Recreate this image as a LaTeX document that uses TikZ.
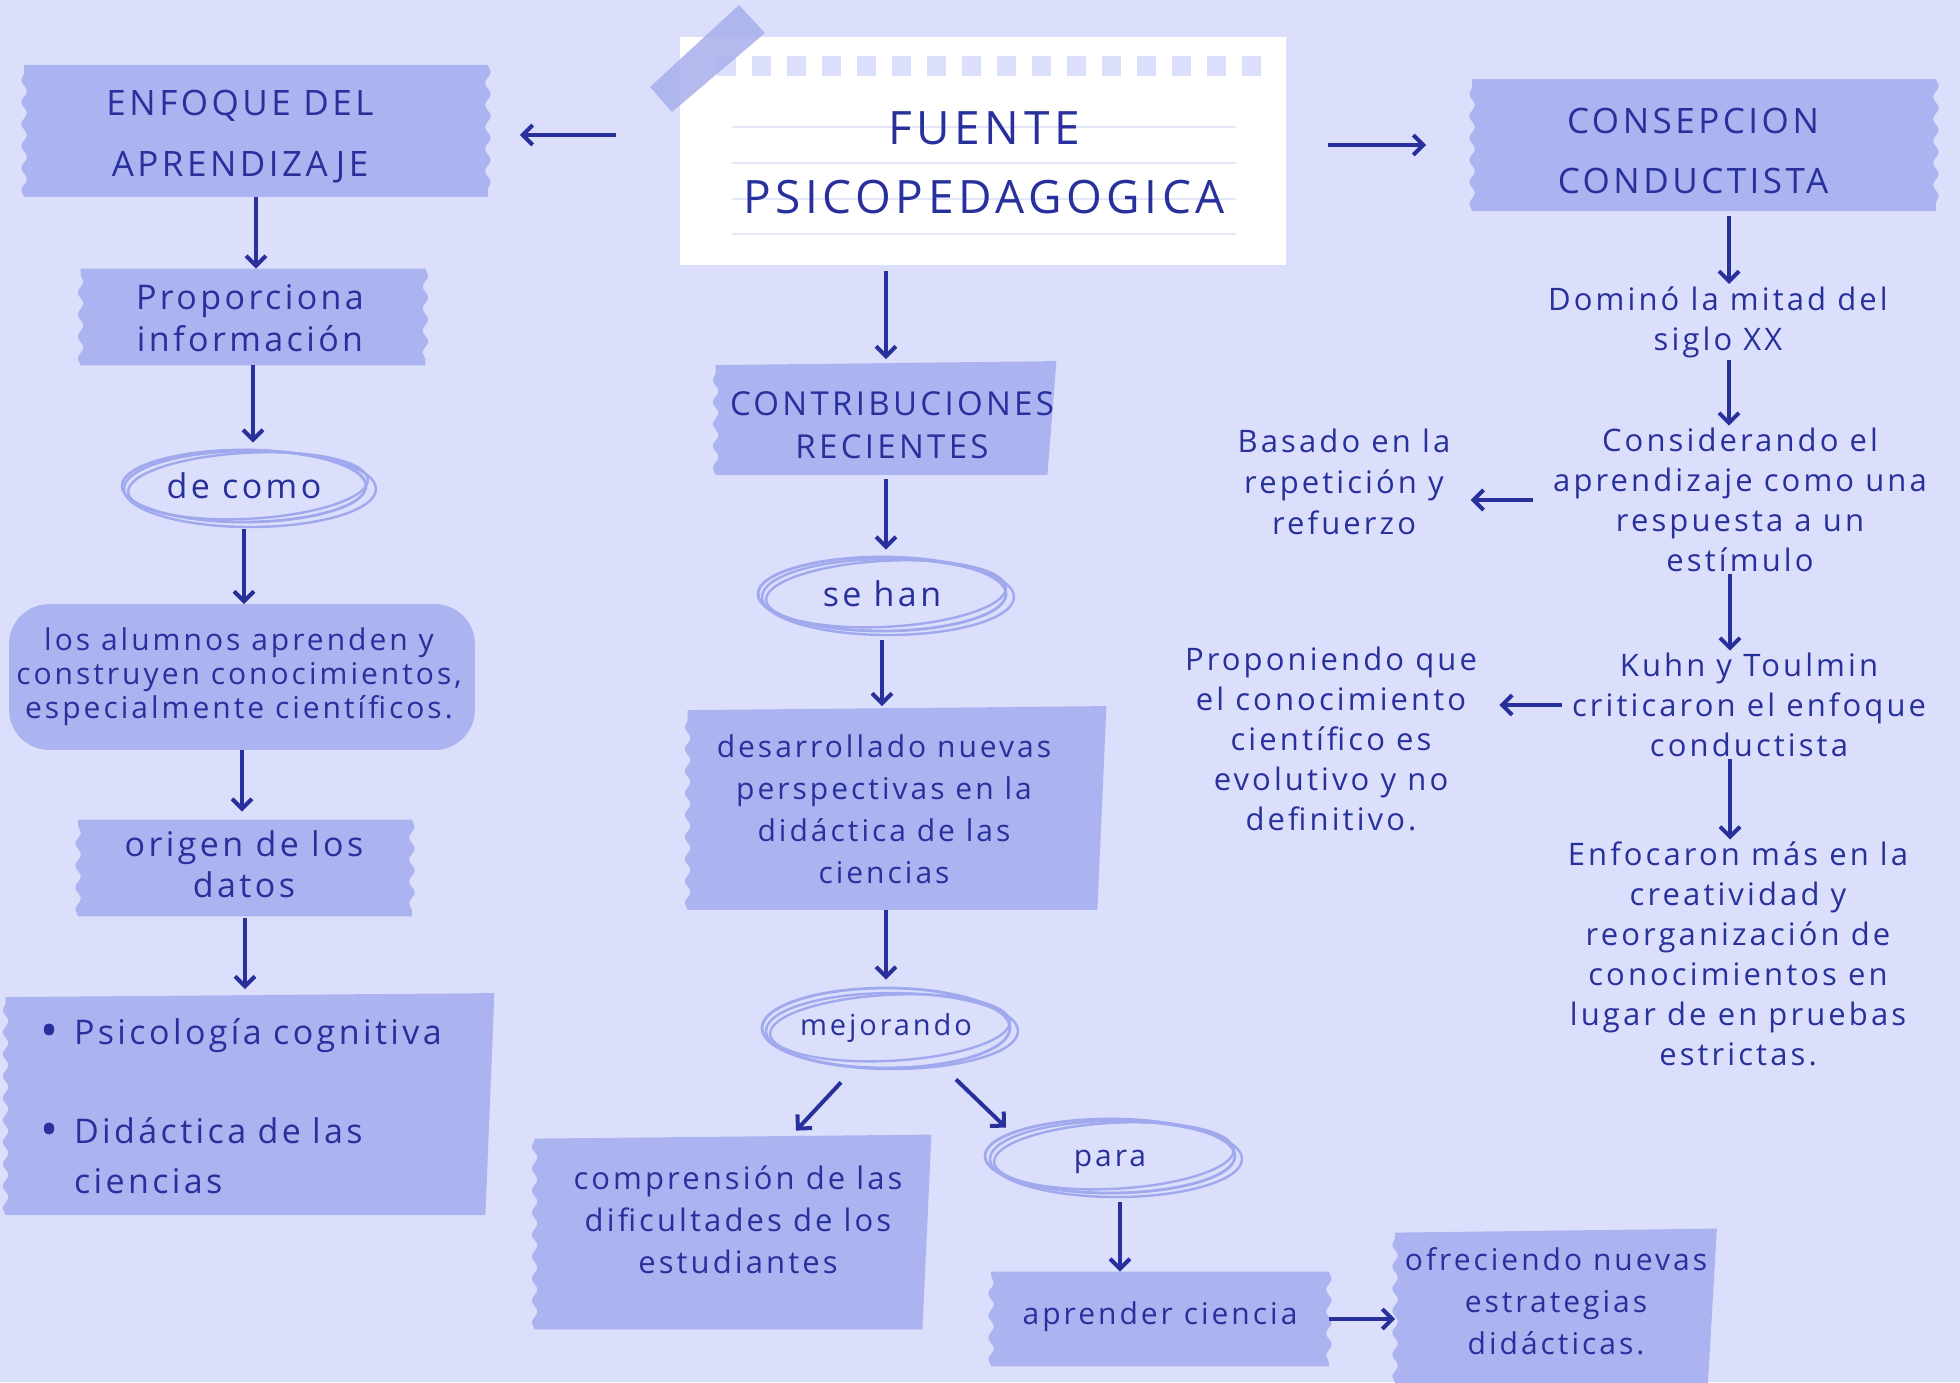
\documentclass[tikz,border=0pt]{standalone}
\usepackage{fontspec}
\setmainfont{Open Sans}[LetterSpace=10]
\usetikzlibrary{arrows.meta,shapes.geometric,decorations.pathmorphing,backgrounds,calc}
\definecolor{bgc}{HTML}{DCDFFB}
\definecolor{boxc}{HTML}{ABB3F1}
\definecolor{textc}{HTML}{28309B}
\definecolor{ringc}{HTML}{A0A8EE}
\definecolor{tapec}{HTML}{A7AFEC}
\definecolor{rulec}{HTML}{E4E6FA}
\newcommand{\bigdot}{\makebox[17pt][l]{\raisebox{-1.5pt}{\fontsize{24}{24}\selectfont •}}}

\begin{document}
\begin{tikzpicture}[x=0.5pt,y=-0.5pt,
  every node/.style={text=textc, align=center},
  tapebox/.style={inner sep=0pt},
  boxtext/.style={inner sep=1pt},
  ringnode/.style={ellipse, draw=ringc, line width=1.4pt, inner sep=0pt},
  freetext/.style={inner sep=1pt, font=\fontsize{15.5}{20}\selectfont},
  arr/.style={draw=textc, line width=2pt, -{Straight Barb[length=5pt,width=10pt]}},
  wave/.style={decoration={snake, segment length=11pt, amplitude=1.4pt}},
  ringline/.style={draw=ringc, line width=1.2pt}]

\useasboundingbox (0,0) rectangle (1960,1382);

% left column
\node[tapebox, minimum width=231.5pt, minimum height=65.5pt] (enfoque) at (256,131) {};
\node[boxtext, font=\fontsize{17.5}{30.5}\selectfont] (enfoquetxt) at (240,137) {ENFOQUE DEL\\APRENDIZAJE};
\node[tapebox, minimum width=172pt, minimum height=48pt] (proporciona) at (253,317) {};
\node[boxtext, font=\fontsize{17}{21}\selectfont] (proporcionatxt) at (250,318) {Proporciona\\información};
\node[ringnode, minimum width=122pt, minimum height=36pt, font=\fontsize{17}{20}\selectfont] (decomo) at (244,486) {de como};
\node[tapebox, minimum width=232.5pt, minimum height=72.5pt] (alumnos) at (242,677) {};
\node[boxtext, font=\fontsize{15}{17}\selectfont] (alumnostxt) at (239,677) {los alumnos aprenden y\\construyen conocimientos,\\especialmente científicos.};
\node[tapebox, minimum width=166.5pt, minimum height=48pt] (origen) at (245,868) {};
\node[boxtext, font=\fontsize{17}{20.5}\selectfont] (origentxt) at (244,864) {origen de los\\datos};
\node[tapebox, minimum width=244pt, minimum height=110.5pt] (bullets) at (250,1104) {};
\node[boxtext, align=left, text width=210pt, font=\fontsize{17}{25}\selectfont] (bulletstxt) at (250,1106) {\bigdot Psicología cognitiva\\[24.5pt]\bigdot Didáctica de las\\\hspace*{17pt}ciencias};

% middle column
\node[tapebox, minimum width=302.5pt, minimum height=113.5pt] (fuente) at (983,151) {};
\node[boxtext, font=\fontsize{23}{34.5}\selectfont] (fuentetxt) at (984,163) {FUENTE\\PSICOPEDAGOGICA};
\node[tapebox, minimum width=170pt, minimum height=56.5pt] (contrib) at (886,418) {};
\node[boxtext, font=\fontsize{16.5}{21.5}\selectfont] (contribtxt) at (892,425) {CONTRIBUCIONES\\RECIENTES};
\node[ringnode, minimum width=124pt, minimum height=37pt, font=\fontsize{17}{20}\selectfont] (sehan) at (882,594) {se han};
\node[tapebox, minimum width=209pt, minimum height=101.5pt] (desarrollado) at (897,808) {};
\node[boxtext, font=\fontsize{15}{21}\selectfont] (desarrolladotxt) at (884,809) {desarrollado nuevas\\perspectivas en la\\didáctica de las\\ciencias};
\node[ringnode, minimum width=124pt, minimum height=40pt, font=\fontsize{14.5}{18}\selectfont] (mejorando) at (886,1028) {mejorando};
\node[tapebox, minimum width=198pt, minimum height=97pt] (comprension) at (733,1232) {};
\node[boxtext, font=\fontsize{15.5}{21}\selectfont] (comprensiontxt) at (738,1220) {comprensión de las\\dificultades de los\\estudiantes};
\node[ringnode, minimum width=125pt, minimum height=37pt, font=\fontsize{15}{18}\selectfont] (para) at (1110,1156) {\rule{0pt}{14pt}para};
\node[tapebox, minimum width=168.5pt, minimum height=47pt] (aprender) at (1160,1319) {};
\node[boxtext, font=\fontsize{15}{21}\selectfont] (aprendertxt) at (1160,1317) {aprender ciencia};
\node[tapebox, minimum width=160.5pt, minimum height=77pt] (ofreciendo) at (1556,1306) {};
\node[boxtext, font=\fontsize{15}{21}\selectfont] (ofreciendotxt) at (1556,1301) {ofreciendo nuevas\\estrategias\\didácticas.};

% right column
\node[tapebox, minimum width=231.5pt, minimum height=65.5pt] (consepcion) at (1704,145) {};
\node[boxtext, font=\fontsize{17.5}{30}\selectfont] (consepciontxt) at (1693,151) {CONSEPCION\\CONDUCTISTA};
\node[freetext] (domino) at (1718,322) {Dominó la mitad del\\siglo XX};
\node[freetext] (considerando) at (1740,500) {Considerando el\\aprendizaje como una\\respuesta a un\\estímulo};
\node[freetext, font=\fontsize{15.5}{20.5}\selectfont] (basado) at (1344,482) {Basado en la\\repetición y\\refuerzo};
\node[freetext] (kuhn) at (1749,705) {Kuhn y Toulmin\\criticaron el enfoque\\conductista};
\node[freetext] (proponiendo) at (1331,739) {Proponiendo que\\el conocimiento\\científico es\\evolutivo y no\\definitivo.};
\node[freetext] (enfocaron) at (1738,954) {Enfocaron más en la\\creatividad y\\reorganización de\\conocimientos en\\lugar de en pruebas\\estrictas.};

% scribbled rings
\foreach \n in {decomo,sehan,mejorando,para} {
  \draw[ringline, rotate around={3:(\n.center)}] ([xshift=2pt]\n.center) ellipse [x radius=60pt, y radius=16.5pt];
  \draw[ringline] ([xshift=3pt,yshift=-1.5pt]\n.center) ellipse [x radius=63pt, y radius=19pt];
}

% connectors
\draw[arr, shorten <=32pt, shorten >=16pt] ([yshift=-2pt]fuente.west |- enfoque.east) -- ([yshift=-2pt]enfoque.east);
\draw[arr, shorten <=21pt, shorten >=23pt] (fuente.east |- consepcion.west) -- (consepcion.west);
\draw[arr] (enfoque.south) -- (enfoque.south |- proporciona.north);
\draw[arr, shorten >=3pt] (proporciona.south) -- (proporciona.south |- decomo.north);
\draw[arr, shorten <=3pt] (decomo.south) -- (decomo.south |- alumnos.north);
\draw[arr, shorten >=4pt] (alumnos.south) -- (alumnos.south |- origen.north);
\draw[arr, shorten <=1pt, shorten >=2pt] (origen.south) -- (origen.south |- bullets.north);
\draw[arr, shorten <=3pt, shorten >=1pt] (contrib.north |- fuente.south) -- (contrib.north);
\draw[arr, shorten <=2pt, shorten >=3pt] (contrib.south) -- (contrib.south |- sehan.north);
\draw[arr, shorten <=4pt] (sehan.south) -- (sehan.south |- desarrollado.north);
\draw[arr, shorten >=3.5pt] (mejorando.north |- desarrollado.south) -- (mejorando.north);
\draw[arr] ([xshift=-22.5pt,yshift=-6.5pt]mejorando.south) -- ([xshift=31.5pt,yshift=2pt]comprension.north);
\draw[arr] ([xshift=35pt,yshift=-5pt]mejorando.south) -- ([xshift=-52pt,yshift=-5pt]para.north);
\draw[arr, shorten <=4pt] ([xshift=5pt]para.south) -- ([xshift=5pt]para.south |- aprender.north);
\draw[arr] (aprender.east) -- (aprender.east -| ofreciendo.west);
\draw[arr, shorten <=2.5pt] ([xshift=12.5pt]consepcion.south) -- ([xshift=12.5pt]consepcion.south |- domino.north);
\draw[arr] ([xshift=5.5pt]domino.south) -- ([xshift=5.5pt]domino.south |- considerando.north);
\draw[arr, shorten <=9pt, shorten >=9pt] (considerando.west) -- (considerando.west -| basado.east);
\draw[arr] ([xshift=-5pt]considerando.south) -- ([xshift=-5pt]considerando.south |- kuhn.north);
\draw[arr, shorten <=4pt, shorten >=10pt] (kuhn.west) -- (kuhn.west -| proponiendo.east);
\draw[arr] ([xshift=-9.5pt]kuhn.south) -- ([xshift=-9.5pt]kuhn.south |- enfocaron.north);

\begin{pgfonlayer}{background}
\fill[bgc] (0,0) rectangle (1960,1382);
% note card
\fill[white] (fuente.north west) rectangle (fuente.south east);
\foreach \k in {90,126,162,197}
  \draw[rulec, line width=1pt] ($(fuente.north west)+(52,\k)$) -- ($(fuente.north east)+(-50,\k)$);
\foreach \i in {0,...,15}
  \fill[bgc] ($(fuente.north west)+(37+35*\i,19)$) rectangle ++(19,20);
\fill[tapec, opacity=0.85] (650,87) -- (739,5) -- (765,33) -- (672,112) -- cycle;
% tape boxes
\foreach \n in {enfoque,proporciona,origen,aprender,consepcion}
  \fill[boxc, wave] (\n.north west) -- (\n.north east) decorate{-- (\n.south east)} -- (\n.south west) decorate{-- (\n.north west)} -- cycle;
\foreach \n in {bullets,contrib,desarrollado,comprension,ofreciendo}
  \fill[boxc, wave] ($(\n.north west)+(0,4)$) -- (\n.north east) -- ($(\n.south east)+(-9,0)$) -- (\n.south west) decorate{-- ($(\n.north west)+(0,4)$)} -- cycle;
\fill[boxc, rounded corners=20pt] (alumnos.north west) rectangle (alumnos.south east);
\end{pgfonlayer}
\end{tikzpicture}
\end{document}
